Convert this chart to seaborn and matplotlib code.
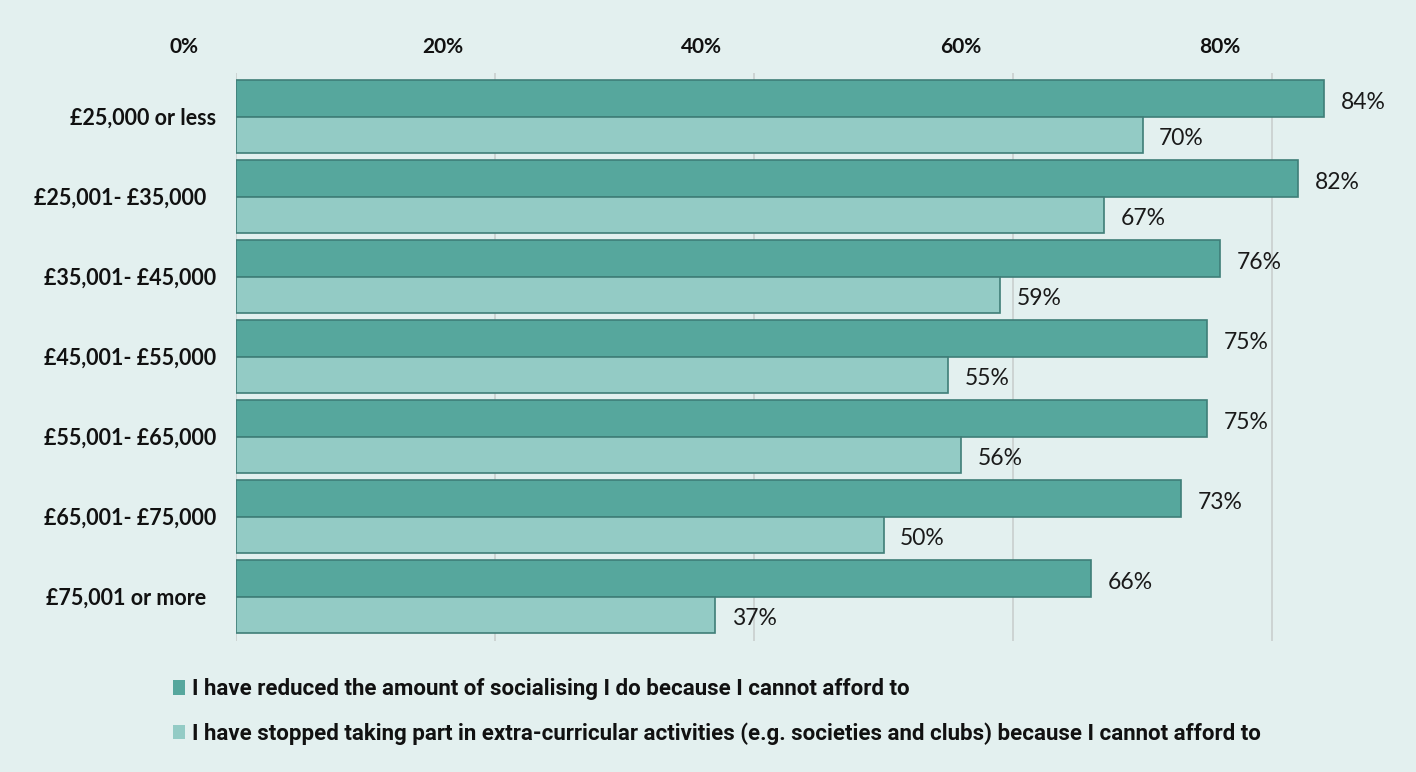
import pandas as pd
import matplotlib.pyplot as plt
import seaborn as sns

# Data
incomes = [
    "£25,000 or less",
    "£25,001- £35,000  ",
    "£35,001- £45,000",
    "£45,001- £55,000",
    "£55,001- £65,000",
    "£65,001- £75,000",
    "£75,001 or more  ",
]
socialising = [84, 82, 76, 75, 75, 73, 66]
extracurricular = [70, 67, 59, 55, 56, 50, 37]
series_names = [
    "I have reduced the amount of socialising I do because I cannot afford to",
    "I have stopped taking part in extra-curricular activities (e.g. societies and clubs) because I cannot afford to",
]
x_ticks = [0, 20, 40, 60, 80]
x_tick_labels = ["0%", "20%", "40%", "60%", "80%"]

df = pd.DataFrame({
    "Income": incomes * 2,
    "Value": socialising + extracurricular,
    "Series": [series_names[0]] * len(incomes) + [series_names[1]] * len(incomes),
})

bg = "#E3F0EF"
dark = "#56A79D"
light = "#93CBC5"
edge = "#3F7E78"

sns.set_style("white")
plt.rcParams["font.family"] = ["Lato", "DejaVu Sans"]

fig = plt.figure(figsize=(14.16, 7.72), dpi=100, facecolor=bg)
ax = fig.add_axes([236 / 1416, 1 - 640.5 / 772, 1165.5 / 1416, 568 / 772])
ax.set_facecolor(bg)

sns.barplot(
    data=df, y="Income", x="Value", hue="Series", orient="h",
    palette=[dark, light], saturation=1, width=0.91, edgecolor=edge,
    linewidth=1.2, ax=ax, legend=True,
)

ax.set_xlim(0, 90)
ax.set_ylim(6.55, -0.55)
ax.set_xlabel("")
ax.set_ylabel("")

# Value labels, sitting a little below the bar centre
for cont in ax.containers:
    anns = ax.bar_label(cont, fmt="%d%%", padding=12, fontsize=16.5, color="#1a1a1a")
    for a in anns:
        a.xyann = (12, -3)

# Gridlines at the ticks, tick labels on top shifted left like the original
ax.set_xticks(x_ticks)
ax.set_xticklabels([])
ax.tick_params(axis="x", length=0)
for v, t in zip(x_ticks, x_tick_labels):
    ax.annotate(t, xy=(v, 1), xycoords=ax.get_xaxis_transform(),
                xytext=(-37.5, 18.5), textcoords="offset points",
                ha="center", va="center", fontsize=15, fontweight="bold",
                color="#111111")

ax.tick_params(axis="y", length=0, pad=14, labelsize=15.5)
for lab in ax.get_yticklabels():
    lab.set_fontweight("bold")
    lab.set_color("#111111")

ax.grid(axis="x", color="#C9CFCE", linewidth=1.2)
ax.set_axisbelow(True)
sns.despine(ax=ax, left=True, bottom=True, top=True, right=True)

# Legend at the bottom
handles, labels = ax.get_legend_handles_labels()
ax.get_legend().remove()
leg = fig.legend(
    handles, labels, loc="upper left", bbox_to_anchor=(173 / 1416, 1 - 678 / 772),
    frameon=False, ncol=1, borderpad=0, borderaxespad=0,
    handlelength=0.55, handleheight=0.65, handletextpad=0.3, labelspacing=1.0,
    prop={"family": "Roboto", "weight": "bold", "size": 16},
)
for h in leg.legend_handles:
    h.set_edgecolor("none")
for t in leg.get_texts():
    t.set_color("#111111")

fig.savefig("out.png", dpi=100, facecolor=bg)
